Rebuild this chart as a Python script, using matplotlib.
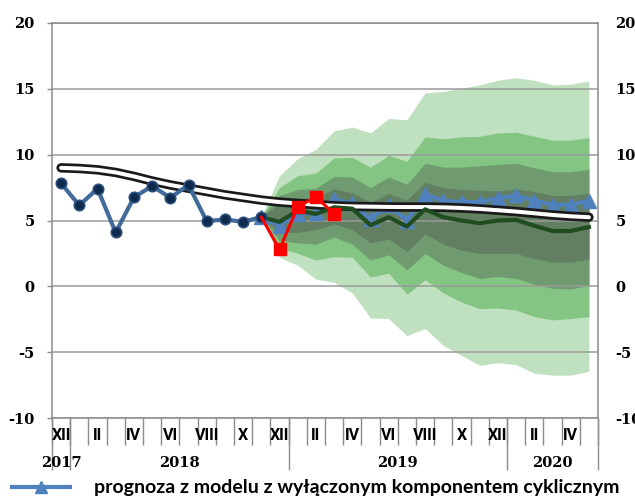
import numpy as np
import matplotlib
matplotlib.use("Agg")
import matplotlib.pyplot as plt
from matplotlib.lines import Line2D

# ---------------- data ----------------
month_labels = ["XII", "I", "II", "III", "IV", "V", "VI", "VII", "VIII", "IX", "X", "XI",
                "XII", "I", "II", "III", "IV", "V", "VI", "VII", "VIII", "IX", "X", "XI",
                "XII", "I", "II", "III", "IV", "V"]
year_labels = ["2017", "2018", "2019", "2020"]
year_first_idx = [0, 1, 13, 25]
year_last_idx = [0, 12, 24, 29]

# realised values (XII 2017 - XI 2018)
actual = [7.82, 6.15, 7.42, 4.09, 6.76, 7.62, 6.73, 7.69, 4.95, 5.08, 4.90, 5.26]

# forecast start index = 11 (XI 2018) to 29 (V 2020)
fc_start = 11
central = [5.26, 4.9, 5.75, 5.5, 6.0, 5.9, 4.65, 5.25, 4.55, 5.85, 5.25, 5.0, 4.8, 5.0, 5.05,
           4.6, 4.2, 4.2, 4.5]
no_cycle = [5.26, 4.6, 5.5, 5.55, 6.6, 6.3, 5.1, 6.2, 5.0, 7.0, 6.5, 6.4, 6.4, 6.7, 6.9,
            6.5, 6.2, 6.2, 6.5]
new_data = [5.26, 2.8, 6.03, 6.8, 5.5]

band_light_top = [5.26, 8.4, 9.7, 10.4, 11.8, 12.1, 11.65, 12.75, 12.65, 14.7, 14.8, 15.05,
                  15.3, 15.65, 15.85, 15.65, 15.3, 15.35, 15.6]
band_med_top = [5.26, 7.5, 8.4, 8.6, 9.75, 9.8, 9.05, 9.95, 9.5, 11.35, 11.2, 11.35, 11.4,
                11.65, 11.7, 11.4, 11.1, 11.1, 11.3]
band_gray_top = [5.26, 6.9, 7.35, 7.45, 8.35, 8.3, 7.5, 8.3, 7.75, 9.35, 9.05, 9.05, 9.15,
                 9.25, 9.35, 9.0, 8.7, 8.7, 8.9]
band_dark_top = [5.26, 6.3, 6.7, 6.7, 7.4, 7.1, 6.4, 7.05, 6.55, 7.9, 7.5, 7.35, 7.3, 7.25,
                 7.4, 7.2, 6.9, 6.9, 7.1]
band_dark_bot = [5.26, 4.1, 4.1, 4.3, 4.75, 4.3, 3.3, 3.6, 2.65, 4.0, 3.2, 2.75, 2.5, 2.5,
                 2.5, 2.1, 1.85, 1.85, 2.05]
band_gray_bot = [5.26, 3.5, 3.3, 3.2, 3.75, 3.2, 2.0, 2.4, 1.25, 2.5, 1.6, 1.05, 0.6, 0.75,
                 0.6, 0.15, -0.15, -0.2, 0.05]
band_med_bot = [5.26, 2.9, 2.5, 2.0, 2.25, 2.2, 0.7, 1.0, -0.6, 0.5, -0.5, -1.2, -1.7, -1.65,
                -1.8, -2.3, -2.55, -2.45, -2.3]
band_light_bot = [5.26, 2.2, 1.6, 0.55, 0.3, -0.5, -2.4, -2.45, -3.75, -3.2, -4.5, -5.25,
                  -6.0, -5.8, -5.95, -6.6, -6.75, -6.75, -6.45]

trend = [9.0, 8.95, 8.85, 8.65, 8.35, 8.0, 7.7, 7.45, 7.2, 6.95, 6.75, 6.55, 6.4, 6.3, 6.2,
         6.12, 6.07, 6.05, 6.03, 6.02, 6.02, 6.0, 5.95, 5.88, 5.78, 5.68, 5.55, 5.42, 5.32, 5.25]

legend_label = "prognoza z modelu z wyłączonym komponentem cyklicznym"

# ---------------- figure ----------------
W, H = 635, 499
fig = plt.figure(figsize=(W / 100, H / 100), dpi=100)
ax = fig.add_axes([52 / W, 1 - 418 / H, 546 / W, 395 / H])

n = len(month_labels)
x_all = np.arange(n)
x_act = np.arange(len(actual))
x_fc = np.arange(fc_start, fc_start + len(central))
x_new = np.arange(fc_start, fc_start + len(new_data))

c_light = "#c0e1c0"
c_med = "#84c584"
c_gray = "#709b70"
c_dark = "#627f62"

ax.fill_between(x_fc, band_light_bot, band_light_top, color=c_light, lw=0, zorder=1)
ax.fill_between(x_fc, band_med_bot, band_med_top, color=c_med, lw=0, zorder=1.1)
ax.fill_between(x_fc, band_gray_bot, band_gray_top, color=c_gray, lw=0, zorder=1.2)
ax.fill_between(x_fc, band_dark_bot, band_dark_top, color=c_dark, lw=0, zorder=1.3)

# grid
ax.set_ylim(-10, 20)
ax.set_xlim(-0.5, n - 0.5)
ax.set_yticks(np.arange(-10, 21, 5))
ax.yaxis.grid(True, color="#9a9a9a", lw=1.1, zorder=1.5)
ax.set_axisbelow(False)
for gl in ax.get_ygridlines():
    gl.set_zorder(1.5)

# blue forecast (no cycle)
ax.plot(x_fc, no_cycle, color="#4f81bd", lw=3.0, marker="^", ms=10.5, mec="#4f81bd",
        mfc="#4f81bd", zorder=3, solid_joinstyle="round")

# trend tube
ax.plot(x_all, trend, color="#1a1a1a", lw=6.8, solid_capstyle="round",
        solid_joinstyle="round", zorder=4)
ax.plot(x_all, trend, color="white", lw=2.9, solid_capstyle="round",
        solid_joinstyle="round", zorder=4.1)

# central path
ax.plot(x_fc, central, color="#1f4d1f", lw=3.0, zorder=5, solid_joinstyle="round")

# actual
ax.plot(x_act, actual, color="#3f6a9a", lw=3.0, zorder=6, solid_joinstyle="round")
ax.plot(x_act, actual, ls="none", marker="o", ms=7.5, mfc="#0e2a4e", mec="#2c4f7c",
        mew=1.2, zorder=6.1)

# newest data (red)
ax.plot(x_new, new_data, color="#ff0000", lw=2.2, zorder=7)
ax.plot(x_new[1:], new_data[1:], ls="none", marker="s", ms=8, color="#ff0000", zorder=7.1)

# spines
for s in ["left", "right", "top", "bottom"]:
    ax.spines[s].set_color("#8c8c8c")
    ax.spines[s].set_linewidth(1.1)
    ax.spines[s].set_zorder(8)

# y axis labels
yfont = dict(family="DejaVu Serif", weight="bold", size=10.5)
ax.tick_params(axis="y", which="major", left=True, right=False, labelleft=True,
               labelright=True, length=3.6, width=1.0, color="#8c8c8c", pad=9)
ax.set_yticklabels([str(v) for v in range(-10, 21, 5)], **yfont)

# x axis: boundaries as major ticks, month labels as minor
ax.set_xticks(np.arange(-0.5, n, 1.0))
ax.set_xticklabels([])
ax.set_xticks(x_all[::2], minor=True)
ax.set_xticklabels(month_labels[::2], minor=True,
                   family=["Roboto", "DejaVu Sans"], weight="bold", size=11.5)
ax.tick_params(axis="x", which="major", length=19.5, width=1.0, color="#8c8c8c",
               direction="out")
ax.tick_params(axis="x", which="minor", length=0, pad=7)

# year axis
sec = ax.secondary_xaxis("bottom")
bounds = sorted(set([f - 0.5 for f in year_first_idx] + [n - 0.5]))
sec.set_xticks(bounds)
sec.set_xticklabels([])
centers = [(a + b) / 2 for a, b in zip(year_first_idx, year_last_idx)]
sec.set_xticks(centers, minor=True)
sec.set_xticklabels(year_labels, minor=True, family="DejaVu Serif", weight="bold", size=10.5)
sec.tick_params(axis="x", which="major", length=37.5, width=1.0, color="#8c8c8c",
                direction="out")
sec.tick_params(axis="x", which="minor", length=0, pad=27.5)
sec.spines["bottom"].set_visible(False)

# legend
handle = Line2D([], [], color="#4f81bd", lw=3.0, marker="^", ms=9, mfc="#4f81bd",
                mec="#4f81bd")
fig.legend([handle], [legend_label], loc="center left", bbox_to_anchor=(12 / W, 1 - 488 / H),
           frameon=False, borderpad=0, borderaxespad=0, handlelength=3.0,
           handletextpad=1.2, numpoints=1,
           prop=dict(family=["Lato", "DejaVu Sans"], weight="bold", size=14))

fig.savefig("out.png", dpi=100)
